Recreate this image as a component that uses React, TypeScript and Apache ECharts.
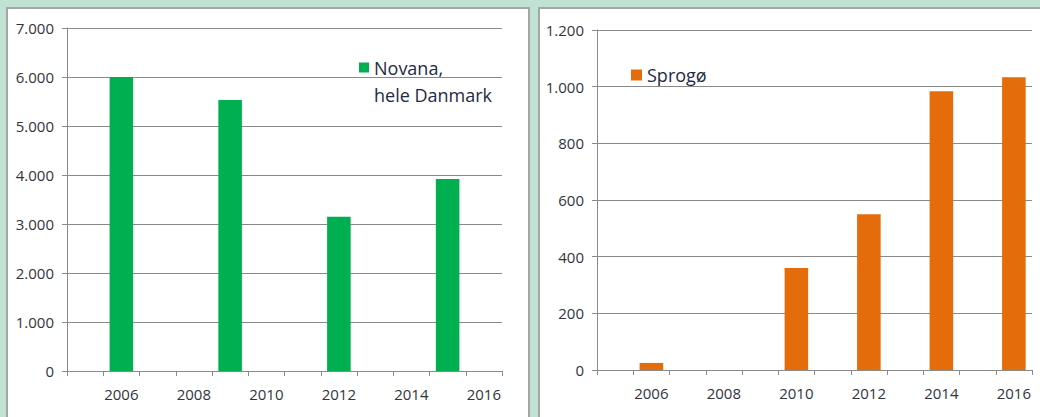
import React, { useEffect, useRef } from "react";
import * as echarts from "echarts";

const years = ["2005", "2006", "2007", "2008", "2009", "2010", "2011", "2012", "2013", "2014", "2015", "2016"];
const novanaValues: (number | null)[] = [null, 6000, null, null, 5530, null, null, 3150, null, null, 3920, null];
const sprogoValues: (number | null)[] = [null, 25, null, null, null, 360, null, 550, null, 984, null, 1033];
const novanaName = "Novana, hele Danmark";
const sprogoName = "Sprogø";

const FONT = "'Open Sans', 'Noto Sans', sans-serif";
const fmt = (v: number) => String(v).replace(/\B(?=(\d{3})+(?!\d))/g, ".");

export default function App() {
  const ref = useRef<HTMLDivElement>(null);
  useEffect(() => {
    if (!ref.current) return;
    const chart = echarts.init(ref.current, null, { renderer: "svg" });
    const gridLine = { lineStyle: { color: "#8a8a8a", width: 1 } };
    const xAxisCommon = {
      type: "category" as const,
      data: years,
      axisLine: { lineStyle: { color: "#8a8a8a" } },
      axisTick: { show: true, interval: 0, alignWithLabel: false, length: 5, lineStyle: { color: "#8a8a8a" } },
      axisLabel: {
        interval: (i: number) => i % 2 === 1,
        color: "#333340",
        fontFamily: FONT,
        fontSize: 15,
        margin: 15,
      },
    };
    const yAxisCommon = {
      type: "value" as const,
      min: 0,
      axisLine: { show: true, lineStyle: { color: "#8a8a8a" } },
      axisTick: { show: true, length: 5, lineStyle: { color: "#8a8a8a" } },
      splitLine: gridLine,
      axisLabel: { color: "#333340", fontFamily: FONT, fontSize: 15, margin: 13, formatter: (v: number) => fmt(v) },
    };
    chart.setOption({
      animation: false,
      backgroundColor: "#c0e2d2",
      graphic: [
        { type: "rect", shape: { x: 7, y: 8, width: 522, height: 420 }, style: { fill: "#ffffff", stroke: "#a6a6a6", lineWidth: 2 }, z: -10 },
        { type: "rect", shape: { x: 539, y: 8, width: 510, height: 420 }, style: { fill: "#ffffff", stroke: "#a6a6a6", lineWidth: 2 }, z: -10 },
      ],
      grid: [
        { left: 67, right: 538, top: 28, bottom: 46 },
        { left: 597, right: 8, top: 30, bottom: 47 },
      ],
      xAxis: [
        { ...xAxisCommon, gridIndex: 0 },
        { ...xAxisCommon, gridIndex: 1 },
      ],
      yAxis: [
        { ...yAxisCommon, gridIndex: 0, max: 7000, interval: 1000 },
        { ...yAxisCommon, gridIndex: 1, max: 1200, interval: 200 },
      ],
      legend: [
        {
          data: [{ name: novanaName, icon: "rect" }],
          left: 359,
          top: 27,
          padding: 0,
          itemWidth: 10,
          itemHeight: 10,
          itemGap: 0,
          formatter: () => "\nNovana,\nhele Danmark",
          textStyle: { fontFamily: FONT, fontSize: 18, color: "#1f2a44", lineHeight: 27 },
        },
        {
          data: [{ name: sprogoName, icon: "rect" }],
          left: 631,
          top: 66,
          padding: 0,
          itemWidth: 11,
          itemHeight: 11,
          textStyle: { fontFamily: FONT, fontSize: 18, color: "#1f2a44" },
        },
      ],
      series: [
        {
          name: novanaName,
          type: "bar",
          xAxisIndex: 0,
          yAxisIndex: 0,
          data: novanaValues,
          barCategoryGap: "35%",
          itemStyle: { color: "#00b050" },
        },
        {
          name: sprogoName,
          type: "bar",
          xAxisIndex: 1,
          yAxisIndex: 1,
          data: sprogoValues,
          barCategoryGap: "35%",
          itemStyle: { color: "#e46c0a" },
        },
      ],
    });
    return () => chart.dispose();
  }, []);
  return <div ref={ref} style={{ position: "absolute", left: 0, top: 0, width: 1040, height: 417 }} />;
}
